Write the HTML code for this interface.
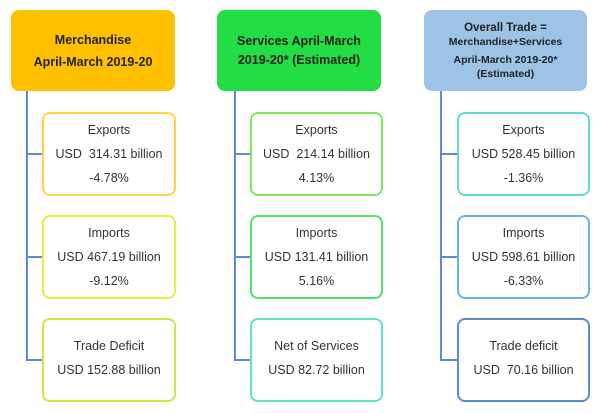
<!DOCTYPE html>
<html><head><meta charset="utf-8"><style>
body{margin:0;width:600px;height:413px;background:#fff;font-family:"Liberation Sans",sans-serif;position:relative;overflow:hidden}
.h{position:absolute;top:10px;height:81px;border-radius:8px;display:flex;flex-direction:column;justify-content:center;align-items:center;text-align:center;font-weight:bold;color:#222;font-size:12.5px;line-height:22px}
.b{position:absolute;background:#fff;border:2px solid;border-radius:8px;box-sizing:border-box;text-align:center;font-size:12.5px;color:#333;line-height:24px;display:flex;flex-direction:column;justify-content:center}
.v{position:absolute;width:2px;background:#5b8ad8}
.c{position:absolute;height:2px;background:#5b8ad8}
</style></head><body>
<div class="h" style="left:11px;width:164px;background:#ffc000">Merchandise<br>April-March 2019-20</div>
<div class="h" style="left:217px;width:164px;background:#22dd44;line-height:19px">Services April-March<br>2019-20* (Estimated)</div>
<div class="h" style="left:424px;width:163px;background:#9dc3e6;font-size:10.5px;line-height:14px"><div style="font-size:11.5px">Overall Trade =</div><div>Merchandise+Services</div><div style="margin-top:4px">April-March 2019-20*</div><div>(Estimated)</div></div>

<div class="v" style="left:26px;top:91px;height:270px"></div>
<div class="c" style="left:26px;top:153px;width:17px"></div>
<div class="c" style="left:26px;top:256px;width:17px"></div>
<div class="c" style="left:26px;top:359px;width:17px"></div>
<div class="v" style="left:234px;top:91px;height:270px"></div>
<div class="c" style="left:234px;top:153px;width:17px"></div>
<div class="c" style="left:234px;top:256px;width:17px"></div>
<div class="c" style="left:234px;top:359px;width:17px"></div>
<div class="v" style="left:440px;top:91px;height:270px"></div>
<div class="c" style="left:440px;top:153px;width:17px"></div>
<div class="c" style="left:440px;top:256px;width:17px"></div>
<div class="c" style="left:440px;top:359px;width:17px"></div>

<div class="b" style="left:42px;top:112px;width:134px;height:84px;border-color:#ffd44a">Exports<br>USD&nbsp; 314.31 billion<br>-4.78%</div>
<div class="b" style="left:42px;top:215px;width:134px;height:84px;border-color:#e6ef3a">Imports<br>USD 467.19 billion<br>-9.12%</div>
<div class="b" style="left:42px;top:318px;width:134px;height:84px;border-color:#c3ec45;padding-bottom:4px">Trade Deficit<br>USD 152.88 billion</div>

<div class="b" style="left:250px;top:112px;width:133px;height:84px;border-color:#7de85a">Exports<br>USD&nbsp; 214.14 billion<br>4.13%</div>
<div class="b" style="left:250px;top:215px;width:133px;height:84px;border-color:#4ee36a">Imports<br>USD 131.41 billion<br>5.16%</div>
<div class="b" style="left:250px;top:318px;width:133px;height:84px;border-color:#5de8b0;padding-bottom:4px">Net of Services<br>USD 82.72 billion</div>

<div class="b" style="left:457px;top:112px;width:133px;height:84px;border-color:#5edcd4">Exports<br>USD 528.45 billion<br>-1.36%</div>
<div class="b" style="left:457px;top:215px;width:133px;height:84px;border-color:#62b6e6">Imports<br>USD 598.61 billion<br>-6.33%</div>
<div class="b" style="left:457px;top:318px;width:133px;height:84px;border-color:#5b8ad8;padding-bottom:4px">Trade deficit<br>USD&nbsp; 70.16 billion</div>
</body></html>
